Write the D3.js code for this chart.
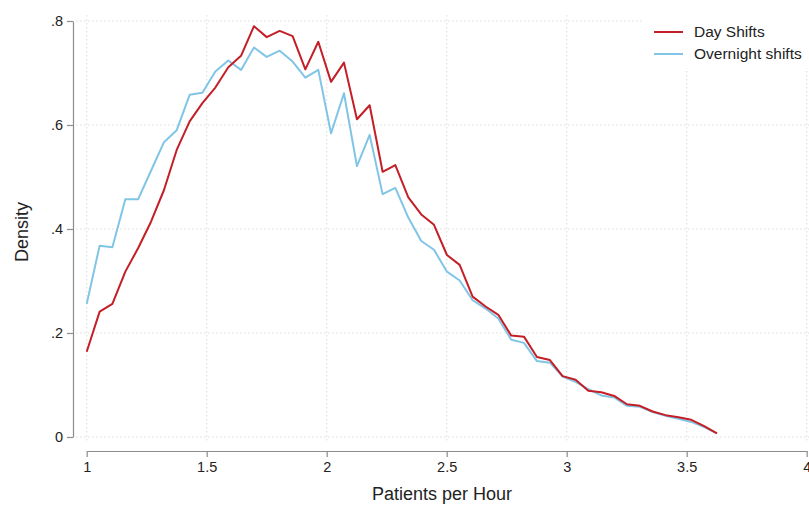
<!DOCTYPE html>
<html>
<head>
<meta charset="utf-8">
<script src="https://cdn.jsdelivr.net/npm/d3@7"></script>
<style>
	body { margin: 0; background: #fff; }
	svg { display: block; font-family: "Liberation Sans", Arial, sans-serif; }
	.grid line { stroke: #dcdcdc; stroke-width: 1; stroke-dasharray: 1.5, 2.5; }
	.axis path, .axis line { stroke: #8c8c8c; stroke-width: 1.2; }
	.axis text { fill: #222; font-size: 14.5px; }
</style>
</head>
<body>
<svg id="chart" width="809" height="508" viewBox="0 0 809 508"></svg>
<script>
// patients per hour (bin positions)
const patients = [
	1.000, 1.054, 1.107, 1.161, 1.214, 1.268, 1.322, 1.375, 1.429, 1.482,
	1.536, 1.590, 1.643, 1.697, 1.750, 1.804, 1.858, 1.911, 1.965, 2.018,
	2.072, 2.126, 2.179, 2.233, 2.286, 2.340, 2.394, 2.447, 2.501, 2.554,
	2.608, 2.662, 2.715, 2.769, 2.822, 2.876, 2.930, 2.983, 3.037, 3.090,
	3.144, 3.198, 3.251, 3.305, 3.358, 3.412, 3.466, 3.519, 3.573, 3.626
];

const dayShifts = [
	0.164, 0.241, 0.256, 0.318, 0.363, 0.414, 0.475, 0.552, 0.607, 0.642,
	0.672, 0.711, 0.733, 0.790, 0.769, 0.781, 0.771, 0.707, 0.760, 0.683,
	0.720, 0.611, 0.638, 0.510, 0.523, 0.461, 0.428, 0.408, 0.350, 0.331,
	0.270, 0.251, 0.235, 0.195, 0.193, 0.154, 0.148, 0.117, 0.110, 0.089,
	0.086, 0.079, 0.063, 0.060, 0.049, 0.042, 0.038, 0.033, 0.021, 0.007
];

const overnightShifts = [
	0.256, 0.368, 0.365, 0.457, 0.457, 0.512, 0.567, 0.590, 0.658, 0.662,
	0.703, 0.724, 0.706, 0.749, 0.731, 0.743, 0.722, 0.691, 0.706, 0.584,
	0.661, 0.521, 0.581, 0.467, 0.479, 0.422, 0.377, 0.360, 0.318, 0.301,
	0.263, 0.247, 0.228, 0.187, 0.181, 0.146, 0.143, 0.116, 0.106, 0.092,
	0.080, 0.076, 0.060, 0.058, 0.048, 0.041, 0.035, 0.029, 0.019, 0.007
];

const xTicks = [1, 1.5, 2, 2.5, 3, 3.5, 4];
const yTicks = [0, 0.2, 0.4, 0.6, 0.8];

const series = [
	{ name: "Day Shifts", values: dayShifts, color: "#c41e26" },
	{ name: "Overnight shifts", values: overnightShifts, color: "#80c5e6" }
];

const svg = d3.select("#chart");

const x = d3
	.scaleLinear()
	.domain([1, 4])
	.range([86.7, 806.7]);
const y = d3
	.scaleLinear()
	.domain([0, 0.8])
	.range([437, 21]);

// grid
const grid = svg.append("g").attr("class", "grid");
grid
	.selectAll(".gx")
	.data(xTicks)
	.join("line")
	.attr("x1", d => x(d))
	.attr("x2", d => x(d))
	.attr("y1", y(0.8) - 6)
	.attr("y2", y(0) + 6);
grid
	.selectAll(".gy")
	.data(yTicks)
	.join("line")
	.attr("class", "gy")
	.attr("x1", 76)
	.attr("x2", 809)
	.attr("y1", d => y(d))
	.attr("y2", d => y(d));

// axes
const fmt = d => (d === 0 ? "0" : d3.format(".1f")(d).replace(/^0/, ""));

svg
	.append("g")
	.attr("class", "axis")
	.attr("transform", "translate(73,0)")
	.call(d3.axisLeft(y).tickValues(yTicks).tickFormat(fmt).tickSize(6).tickPadding(4).tickSizeOuter(0));

svg
	.append("g")
	.attr("class", "axis")
	.attr("transform", "translate(0,451)")
	.call(d3.axisBottom(x).tickValues(xTicks).tickFormat(d3.format("")).tickSize(6).tickPadding(5).tickSizeOuter(0));

svg
	.append("text")
	.attr("x", 442)
	.attr("y", 500)
	.attr("text-anchor", "middle")
	.attr("font-size", 18)
	.attr("fill", "#222")
	.text("Patients per Hour");

svg
	.append("text")
	.attr("transform", "translate(28,232) rotate(-90)")
	.attr("text-anchor", "middle")
	.attr("font-size", 18)
	.attr("fill", "#222")
	.text("Density");

// lines
const line = d3
	.line()
	.x((d, i) => x(patients[i]))
	.y(d => y(d));

svg
	.append("g")
	.selectAll("path")
	.data(series.slice().reverse())
	.join("path")
	.attr("d", d => line(d.values))
	.attr("fill", "none")
	.attr("stroke", d => d.color)
	.attr("stroke-width", 2)
	.attr("stroke-linejoin", "round");

// legend
const legend = svg.append("g").attr("transform", "translate(643,14)");
legend
	.append("rect")
	.attr("width", 170)
	.attr("height", 54)
	.attr("fill", "#fff");
const items = legend
	.selectAll(".item")
	.data(series)
	.join("g")
	.attr("transform", (d, i) => `translate(0,${18 + i * 22})`);
items
	.append("line")
	.attr("x1", 11)
	.attr("x2", 40)
	.attr("stroke", d => d.color)
	.attr("stroke-width", 2);
items
	.append("text")
	.attr("x", 51)
	.attr("dy", "0.35em")
	.attr("font-size", 15.5)
	.attr("fill", "#222")
	.text(d => d.name);
</script>
</body>
</html>
